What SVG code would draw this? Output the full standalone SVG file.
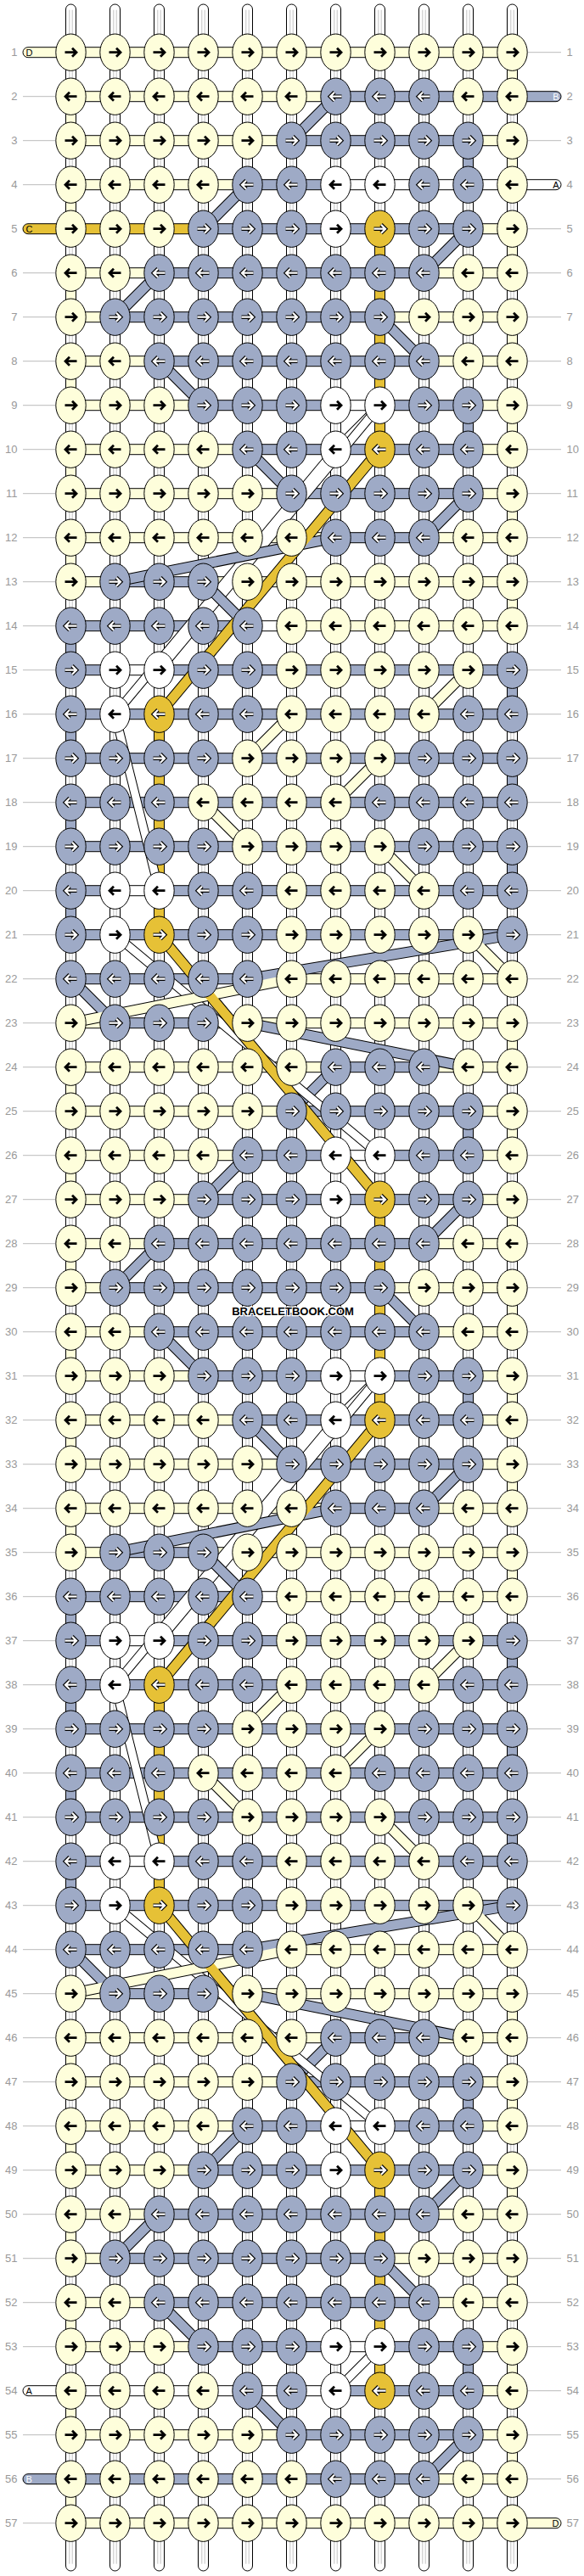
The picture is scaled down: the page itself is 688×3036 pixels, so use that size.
<svg xmlns="http://www.w3.org/2000/svg" width="688" height="3036" viewBox="0 0 688 3036">
<style>
.y{fill:#FEFEDB;stroke:#000;stroke-width:1}
.b{fill:#9EAAC6;stroke:#000;stroke-width:1}
.w{fill:#fff;stroke:#000;stroke-width:1}
.g{fill:#E6C136;stroke:#000;stroke-width:1}
.ab{fill:none;stroke:#000;stroke-width:2.8}
.ao{fill:none;stroke:#000;stroke-width:4.6}
.aw{fill:none;stroke:#fff;stroke-width:2.3}
.dk{stroke:#000;stroke-width:13;fill:none}
.dkw{stroke:#000;stroke-width:11;fill:none}
.dB{stroke:#9EAAC6;stroke-width:11;fill:none}
.dY{stroke:#FEFEDB;stroke-width:11;fill:none}
.dG{stroke:#E6C136;stroke-width:11;fill:none}
.dW{stroke:#fff;stroke-width:9;fill:none}
.ln{stroke:#bbb;stroke-width:1}
.num{font-family:"Liberation Sans",Arial,sans-serif;font-size:13px;fill:#999}
.tl{font-family:"Liberation Sans",Arial,sans-serif;font-size:11px;fill:#000}
.tlw{font-family:"Liberation Sans",Arial,sans-serif;font-size:11px;fill:#fff}
.stripe{fill:none;stroke:#c4c4c4;stroke-width:1}
.wm{font-family:"Liberation Sans",Arial,sans-serif;font-size:13px;font-weight:bold;fill:#000;stroke:#fff;stroke-width:2.5;paint-order:stroke}
</style>
<defs>
<path id="ar" d="M-7,0H6M1.5,-5L6.5,0L1.5,5"/>
<path id="al" d="M7,0H-6M-1.5,-5L-6.5,0L-1.5,5"/>
<g id="yr"><ellipse rx="17.7" ry="21.7" class="y"/><use href="#ar" class="ab"/></g>
<g id="yl"><ellipse rx="17.7" ry="21.7" class="y"/><use href="#al" class="ab"/></g>
<g id="wr"><ellipse rx="17.7" ry="21.7" class="w"/><use href="#ar" class="ab"/></g>
<g id="wl"><ellipse rx="17.7" ry="21.7" class="w"/><use href="#al" class="ab"/></g>
<g id="br"><ellipse rx="17.7" ry="21.7" class="b"/><use href="#ar" class="ao"/><use href="#ar" class="aw"/></g>
<g id="bl"><ellipse rx="17.7" ry="21.7" class="b"/><use href="#al" class="ao"/><use href="#al" class="aw"/></g>
<g id="gr"><ellipse rx="17.7" ry="21.7" class="g"/><use href="#ar" class="ao"/><use href="#ar" class="aw"/></g>
<g id="gl"><ellipse rx="17.7" ry="21.7" class="g"/><use href="#al" class="ao"/><use href="#al" class="aw"/></g>
<g id="vt"><rect x="-6" y="-4.7" width="12" height="3025" rx="6" class="w"/><path d="M-1.7,2V3012M1.7,2V3012" class="stripe"/></g>
<g id="h1"><rect class="y" x="52" y="-6" width="520" height="12"/></g>
<g id="h2"><rect class="y" x="52" y="-6" width="312" height="12"/><rect class="b" x="364" y="-6" width="208" height="12"/></g>
<g id="h3"><rect class="y" x="52" y="-6" width="260" height="12"/><rect class="b" x="312" y="-6" width="208" height="12"/><rect class="y" x="520" y="-6" width="52" height="12"/></g>
<g id="h4"><rect class="y" x="52" y="-6" width="208" height="12"/><rect class="b" x="260" y="-6" width="104" height="12"/><rect class="w" x="364" y="-6" width="208" height="12"/></g>
<g id="h5"><rect class="g" x="52" y="-6" width="156" height="12"/><rect class="b" x="208" y="-6" width="312" height="12"/><rect class="y" x="520" y="-6" width="52" height="12"/></g>
<g id="h6"><rect class="y" x="52" y="-6" width="104" height="12"/><rect class="b" x="156" y="-6" width="312" height="12"/><rect class="y" x="468" y="-6" width="104" height="12"/></g>
<g id="h7"><rect class="y" x="52" y="-6" width="52" height="12"/><rect class="b" x="104" y="-6" width="312" height="12"/><rect class="y" x="416" y="-6" width="156" height="12"/></g>
<g id="h9"><rect class="y" x="52" y="-6" width="156" height="12"/><rect class="b" x="208" y="-6" width="156" height="12"/><rect class="w" x="364" y="-6" width="52" height="12"/><rect class="b" x="416" y="-6" width="104" height="12"/><rect class="y" x="520" y="-6" width="52" height="12"/></g>
<g id="h10"><rect class="y" x="52" y="-6" width="208" height="12"/><rect class="b" x="260" y="-6" width="260" height="12"/><rect class="y" x="520" y="-6" width="52" height="12"/></g>
<g id="h12"><rect class="y" x="52" y="-6" width="312" height="12"/><rect class="b" x="364" y="-6" width="104" height="12"/><rect class="y" x="468" y="-6" width="104" height="12"/></g>
<g id="h13"><rect class="y" x="52" y="-6" width="52" height="12"/><rect class="b" x="104" y="-6" width="104" height="12"/><rect class="y" x="208" y="-6" width="364" height="12"/></g>
<g id="h14"><rect class="b" x="52" y="-6" width="208" height="12"/><rect class="w" x="260" y="-6" width="52" height="12"/><rect class="y" x="312" y="-6" width="260" height="12"/></g>
<g id="h15"><rect class="b" x="52" y="-6" width="52" height="12"/><rect class="w" x="104" y="-6" width="52" height="12"/><rect class="b" x="156" y="-6" width="416" height="12"/></g>
<g id="h16"><rect class="b" x="52" y="-6" width="520" height="12"/></g>
<g id="h22"><rect class="b" x="52" y="-6" width="260" height="12"/><rect class="y" x="312" y="-6" width="260" height="12"/></g>
<g id="h26"><rect class="y" x="52" y="-6" width="208" height="12"/><rect class="b" x="260" y="-6" width="104" height="12"/><rect class="w" x="364" y="-6" width="52" height="12"/><rect class="b" x="416" y="-6" width="104" height="12"/><rect class="y" x="520" y="-6" width="52" height="12"/></g>
<g id="h27"><rect class="y" x="52" y="-6" width="156" height="12"/><rect class="b" x="208" y="-6" width="312" height="12"/><rect class="y" x="520" y="-6" width="52" height="12"/></g>
<g id="h54"><rect class="w" x="52" y="-6" width="312" height="12"/><rect class="b" x="364" y="-6" width="156" height="12"/><rect class="y" x="520" y="-6" width="52" height="12"/></g>
<g id="h56"><rect class="b" x="52" y="-6" width="416" height="12"/><rect class="y" x="468" y="-6" width="104" height="12"/></g>
<g id="dA">
<path class="dkw" d="M416,468L364,520"/><path class="dW" d="M416,468L364,520"/>
<path class="dk" d="M364,104L312,156M260,208L208,260M520,260L468,312M156,312L104,364M416,364L468,416M156,416L208,468M260,520L312,572M520,572L468,624"/>
<path class="dB" d="M364,104L312,156M260,208L208,260M520,260L468,312M156,312L104,364M416,364L468,416M156,416L208,468M260,520L312,572M520,572L468,624"/>
</g>
<g id="dB">
<path class="dkw" d="M364,520L104,832M416,468L156,780M104,832L156,1040M104,1092L416,1352"/>
<path class="dW" d="M364,520L104,832M416,468L156,780M104,832L156,1040M104,1092L416,1352"/>
<path class="dk" d="M416,520L156,832M364,624L104,676M208,676L260,728M520,780L468,832M312,832L260,884M416,884L364,936M208,936L260,988M416,988L468,1040M156,1092L416,1404M572,1092L260,1144M520,1092L572,1144M52,1144L104,1196M312,1144L52,1196M260,1196L520,1248"/>
<path class="dB" d="M364,624L104,676M208,676L260,728M572,1092L260,1144M52,1144L104,1196M260,1196L520,1248"/>
<path class="dY" d="M520,780L468,832M312,832L260,884M416,884L364,936M208,936L260,988M416,988L468,1040M520,1092L572,1144M312,1144L52,1196"/>
<path class="dG" d="M416,520L156,832M156,1092L416,1404"/>
</g>
</defs>
<rect width="688" height="3036" fill="#fff"/>
<g transform="translate(31.5 9.7)">
<g id="labels">
<g class="num" text-anchor="end">
<text x="-11" y="56.5">1</text><text x="-11" y="108.5">2</text><text x="-11" y="160.5">3</text><text x="-11" y="212.5">4</text><text x="-11" y="264.5">5</text><text x="-11" y="316.5">6</text><text x="-11" y="368.5">7</text><text x="-11" y="420.5">8</text><text x="-11" y="472.5">9</text><text x="-11" y="524.5">10</text><text x="-11" y="576.5">11</text><text x="-11" y="628.5">12</text><text x="-11" y="680.5">13</text><text x="-11" y="732.5">14</text><text x="-11" y="784.5">15</text><text x="-11" y="836.5">16</text><text x="-11" y="888.5">17</text><text x="-11" y="940.5">18</text><text x="-11" y="992.5">19</text><text x="-11" y="1044.5">20</text><text x="-11" y="1096.5">21</text><text x="-11" y="1148.5">22</text><text x="-11" y="1200.5">23</text><text x="-11" y="1252.5">24</text><text x="-11" y="1304.5">25</text><text x="-11" y="1356.5">26</text><text x="-11" y="1408.5">27</text><text x="-11" y="1460.5">28</text><text x="-11" y="1512.5">29</text><text x="-11" y="1564.5">30</text><text x="-11" y="1616.5">31</text><text x="-11" y="1668.5">32</text><text x="-11" y="1720.5">33</text><text x="-11" y="1772.5">34</text><text x="-11" y="1824.5">35</text><text x="-11" y="1876.5">36</text><text x="-11" y="1928.5">37</text><text x="-11" y="1980.5">38</text><text x="-11" y="2032.5">39</text><text x="-11" y="2084.5">40</text><text x="-11" y="2136.5">41</text><text x="-11" y="2188.5">42</text><text x="-11" y="2240.5">43</text><text x="-11" y="2292.5">44</text><text x="-11" y="2344.5">45</text><text x="-11" y="2396.5">46</text><text x="-11" y="2448.5">47</text><text x="-11" y="2500.5">48</text><text x="-11" y="2552.5">49</text><text x="-11" y="2604.5">50</text><text x="-11" y="2656.5">51</text><text x="-11" y="2708.5">52</text><text x="-11" y="2760.5">53</text><text x="-11" y="2812.5">54</text><text x="-11" y="2864.5">55</text><text x="-11" y="2916.5">56</text><text x="-11" y="2968.5">57</text>
</g>
<g class="num">
<text x="636" y="56.5">1</text><text x="636" y="108.5">2</text><text x="636" y="160.5">3</text><text x="636" y="212.5">4</text><text x="636" y="264.5">5</text><text x="636" y="316.5">6</text><text x="636" y="368.5">7</text><text x="636" y="420.5">8</text><text x="636" y="472.5">9</text><text x="636" y="524.5">10</text><text x="636" y="576.5">11</text><text x="636" y="628.5">12</text><text x="636" y="680.5">13</text><text x="636" y="732.5">14</text><text x="636" y="784.5">15</text><text x="636" y="836.5">16</text><text x="636" y="888.5">17</text><text x="636" y="940.5">18</text><text x="636" y="992.5">19</text><text x="636" y="1044.5">20</text><text x="636" y="1096.5">21</text><text x="636" y="1148.5">22</text><text x="636" y="1200.5">23</text><text x="636" y="1252.5">24</text><text x="636" y="1304.5">25</text><text x="636" y="1356.5">26</text><text x="636" y="1408.5">27</text><text x="636" y="1460.5">28</text><text x="636" y="1512.5">29</text><text x="636" y="1564.5">30</text><text x="636" y="1616.5">31</text><text x="636" y="1668.5">32</text><text x="636" y="1720.5">33</text><text x="636" y="1772.5">34</text><text x="636" y="1824.5">35</text><text x="636" y="1876.5">36</text><text x="636" y="1928.5">37</text><text x="636" y="1980.5">38</text><text x="636" y="2032.5">39</text><text x="636" y="2084.5">40</text><text x="636" y="2136.5">41</text><text x="636" y="2188.5">42</text><text x="636" y="2240.5">43</text><text x="636" y="2292.5">44</text><text x="636" y="2344.5">45</text><text x="636" y="2396.5">46</text><text x="636" y="2448.5">47</text><text x="636" y="2500.5">48</text><text x="636" y="2552.5">49</text><text x="636" y="2604.5">50</text><text x="636" y="2656.5">51</text><text x="636" y="2708.5">52</text><text x="636" y="2760.5">53</text><text x="636" y="2812.5">54</text><text x="636" y="2864.5">55</text><text x="636" y="2916.5">56</text><text x="636" y="2968.5">57</text>
</g>
<path class="ln" d="M-4.5,104H34M-4.5,156H34M-4.5,208H34M-4.5,312H34M-4.5,364H34M-4.5,416H34M-4.5,468H34M-4.5,520H34M-4.5,572H34M-4.5,624H34M-4.5,676H34M-4.5,728H34M-4.5,780H34M-4.5,832H34M-4.5,884H34M-4.5,936H34M-4.5,988H34M-4.5,1040H34M-4.5,1092H34M-4.5,1144H34M-4.5,1196H34M-4.5,1248H34M-4.5,1300H34M-4.5,1352H34M-4.5,1404H34M-4.5,1456H34M-4.5,1508H34M-4.5,1560H34M-4.5,1612H34M-4.5,1664H34M-4.5,1716H34M-4.5,1768H34M-4.5,1820H34M-4.5,1872H34M-4.5,1924H34M-4.5,1976H34M-4.5,2028H34M-4.5,2080H34M-4.5,2132H34M-4.5,2184H34M-4.5,2236H34M-4.5,2288H34M-4.5,2340H34M-4.5,2392H34M-4.5,2444H34M-4.5,2496H34M-4.5,2548H34M-4.5,2600H34M-4.5,2652H34M-4.5,2704H34M-4.5,2756H34M-4.5,2860H34M-4.5,2964H34"/>
<path class="ln" d="M590,52H629.5M590,156H629.5M590,260H629.5M590,312H629.5M590,364H629.5M590,416H629.5M590,468H629.5M590,520H629.5M590,572H629.5M590,624H629.5M590,676H629.5M590,728H629.5M590,780H629.5M590,832H629.5M590,884H629.5M590,936H629.5M590,988H629.5M590,1040H629.5M590,1092H629.5M590,1144H629.5M590,1196H629.5M590,1248H629.5M590,1300H629.5M590,1352H629.5M590,1404H629.5M590,1456H629.5M590,1508H629.5M590,1560H629.5M590,1612H629.5M590,1664H629.5M590,1716H629.5M590,1768H629.5M590,1820H629.5M590,1872H629.5M590,1924H629.5M590,1976H629.5M590,2028H629.5M590,2080H629.5M590,2132H629.5M590,2184H629.5M590,2236H629.5M590,2288H629.5M590,2340H629.5M590,2392H629.5M590,2444H629.5M590,2496H629.5M590,2548H629.5M590,2600H629.5M590,2652H629.5M590,2704H629.5M590,2756H629.5M590,2808H629.5M590,2860H629.5M590,2912H629.5"/>
</g>
<g id="connectors">
<use href="#vt" x="52"/><use href="#vt" x="104"/><use href="#vt" x="156"/><use href="#vt" x="208"/><use href="#vt" x="260"/><use href="#vt" x="312"/><use href="#vt" x="364"/><use href="#vt" x="416"/><use href="#vt" x="468"/><use href="#vt" x="520"/><use href="#vt" x="572"/>
<g id="vsolid">
<rect class="y" x="566" y="52" width="12" height="52"/><rect class="y" x="46" y="104" width="12" height="52"/><rect class="y" x="566" y="156" width="12" height="52"/><rect class="y" x="46" y="208" width="12" height="52"/><rect class="y" x="566" y="260" width="12" height="52"/><rect class="y" x="46" y="312" width="12" height="52"/><rect class="y" x="566" y="364" width="12" height="52"/><rect class="y" x="46" y="416" width="12" height="52"/><rect class="y" x="566" y="468" width="12" height="52"/><rect class="y" x="46" y="520" width="12" height="52"/><rect class="y" x="566" y="572" width="12" height="52"/><rect class="y" x="46" y="624" width="12" height="52"/><rect class="y" x="566" y="676" width="12" height="52"/><rect class="b" x="46" y="728" width="12" height="52"/><rect class="b" x="566" y="780" width="12" height="52"/><rect class="b" x="46" y="832" width="12" height="52"/><rect class="b" x="566" y="884" width="12" height="52"/><rect class="b" x="46" y="936" width="12" height="52"/><rect class="b" x="566" y="988" width="12" height="52"/><rect class="b" x="46" y="1040" width="12" height="52"/><rect class="y" x="566" y="1196" width="12" height="52"/><rect class="y" x="46" y="1248" width="12" height="52"/><rect class="y" x="566" y="1300" width="12" height="52"/><rect class="y" x="46" y="1352" width="12" height="52"/>
<rect class="y" x="566" y="1404" width="12" height="52"/><rect class="y" x="46" y="1456" width="12" height="52"/><rect class="y" x="566" y="1508" width="12" height="52"/><rect class="y" x="46" y="1560" width="12" height="52"/><rect class="y" x="566" y="1612" width="12" height="52"/><rect class="y" x="46" y="1664" width="12" height="52"/><rect class="y" x="566" y="1716" width="12" height="52"/><rect class="y" x="46" y="1768" width="12" height="52"/><rect class="y" x="566" y="1820" width="12" height="52"/><rect class="b" x="46" y="1872" width="12" height="52"/><rect class="b" x="566" y="1924" width="12" height="52"/><rect class="b" x="46" y="1976" width="12" height="52"/><rect class="b" x="566" y="2028" width="12" height="52"/><rect class="b" x="46" y="2080" width="12" height="52"/><rect class="b" x="566" y="2132" width="12" height="52"/><rect class="b" x="46" y="2184" width="12" height="52"/><rect class="y" x="566" y="2340" width="12" height="52"/><rect class="y" x="46" y="2392" width="12" height="52"/><rect class="y" x="566" y="2444" width="12" height="52"/><rect class="y" x="46" y="2496" width="12" height="52"/><rect class="y" x="566" y="2548" width="12" height="52"/><rect class="y" x="46" y="2600" width="12" height="52"/><rect class="y" x="566" y="2652" width="12" height="52"/><rect class="y" x="46" y="2704" width="12" height="52"/><rect class="y" x="566" y="2756" width="12" height="52"/><rect class="y" x="46" y="2808" width="12" height="52"/><rect class="y" x="566" y="2860" width="12" height="52"/><rect class="y" x="46" y="2912" width="12" height="52"/>
<rect class="b" x="514" y="156" width="12" height="52"/><rect class="b" x="514" y="468" width="12" height="52"/><rect class="b" x="514" y="1300" width="12" height="52"/><rect class="b" x="514" y="1612" width="12" height="52"/><rect class="b" x="514" y="2444" width="12" height="52"/><rect class="b" x="514" y="2756" width="12" height="52"/>
<rect class="g" x="410" y="260" width="12" height="260"/><rect class="g" x="410" y="1404" width="12" height="260"/><rect class="g" x="410" y="2548" width="12" height="260"/><rect class="g" x="150" y="832" width="12" height="260"/><rect class="g" x="150" y="1976" width="12" height="260"/>
</g>
<g id="hconn">
<use href="#h1" y="52"/><use href="#h2" y="104"/><use href="#h3" y="156"/><use href="#h4" y="208"/><use href="#h5" y="260"/><use href="#h6" y="312"/><use href="#h7" y="364"/><use href="#h6" y="416"/><use href="#h9" y="468"/><use href="#h10" y="520"/><use href="#h3" y="572"/><use href="#h12" y="624"/><use href="#h13" y="676"/><use href="#h14" y="728"/><use href="#h15" y="780"/><use href="#h16" y="832"/><use href="#h16" y="884"/><use href="#h16" y="936"/><use href="#h16" y="988"/><use href="#h15" y="1040"/><use href="#h16" y="1092"/><use href="#h22" y="1144"/><use href="#h13" y="1196"/><use href="#h12" y="1248"/><use href="#h3" y="1300"/><use href="#h26" y="1352"/>
<use href="#h27" y="1404"/><use href="#h6" y="1456"/><use href="#h7" y="1508"/><use href="#h6" y="1560"/><use href="#h9" y="1612"/><use href="#h10" y="1664"/><use href="#h3" y="1716"/><use href="#h12" y="1768"/><use href="#h13" y="1820"/><use href="#h14" y="1872"/><use href="#h15" y="1924"/><use href="#h16" y="1976"/><use href="#h16" y="2028"/><use href="#h16" y="2080"/><use href="#h16" y="2132"/><use href="#h15" y="2184"/><use href="#h16" y="2236"/><use href="#h22" y="2288"/><use href="#h13" y="2340"/><use href="#h12" y="2392"/><use href="#h3" y="2444"/><use href="#h26" y="2496"/>
<use href="#h27" y="2548"/><use href="#h6" y="2600"/><use href="#h7" y="2652"/><use href="#h6" y="2704"/><use href="#h9" y="2756"/><use href="#h54" y="2808"/><use href="#h3" y="2860"/><use href="#h56" y="2912"/><use href="#h1" y="2964"/>
</g>
<g id="tubes">
<rect class="y" x="-4.5" y="46" width="70" height="12" rx="6"/><text class="tl" x="-1" y="56">D</text>
<rect class="g" x="-4.5" y="254" width="70" height="12" rx="6"/><text class="tl" x="-1" y="264">C</text>
<rect class="w" x="-4.5" y="2802" width="70" height="12" rx="6"/><text class="tl" x="-1" y="2812">A</text>
<rect class="b" x="-4.5" y="2906" width="70" height="12" rx="6"/><text class="tlw" x="-1" y="2916">B</text>
<rect class="b" x="560" y="98" width="69.5" height="12" rx="6"/><text class="tlw" x="627" y="108" text-anchor="end">B</text>
<rect class="w" x="560" y="202" width="69.5" height="12" rx="6"/><text class="tl" x="627" y="212" text-anchor="end">A</text>
<rect class="y" x="560" y="2958" width="69.5" height="12" rx="6"/><text class="tl" x="627" y="2968" text-anchor="end">D</text>
</g>
<g id="diagonals">
<use href="#dA"/><use href="#dA" y="1144"/><use href="#dA" y="2288"/>
<use href="#dB"/><use href="#dB" y="1144"/>
</g>
</g>
<g id="knots">
<g transform="translate(0 52)"><g id="n1-1"><use href="#yr" x="52"/></g><g id="n1-2"><use href="#yr" x="104"/></g><g id="n1-3"><use href="#yr" x="156"/></g><g id="n1-4"><use href="#yr" x="208"/></g><g id="n1-5"><use href="#yr" x="260"/></g><g id="n1-6"><use href="#yr" x="312"/></g><g id="n1-7"><use href="#yr" x="364"/></g><g id="n1-8"><use href="#yr" x="416"/></g><g id="n1-9"><use href="#yr" x="468"/></g><g id="n1-10"><use href="#yr" x="520"/></g><g id="n1-11"><use href="#yr" x="572"/></g></g>
<g transform="translate(0 104)"><g id="n2-1"><use href="#yl" x="52"/></g><g id="n2-2"><use href="#yl" x="104"/></g><g id="n2-3"><use href="#yl" x="156"/></g><g id="n2-4"><use href="#yl" x="208"/></g><g id="n2-5"><use href="#yl" x="260"/></g><g id="n2-6"><use href="#yl" x="312"/></g><g id="n2-7"><use href="#bl" x="364"/></g><g id="n2-8"><use href="#bl" x="416"/></g><g id="n2-9"><use href="#bl" x="468"/></g><g id="n2-10"><use href="#yl" x="520"/></g><g id="n2-11"><use href="#yl" x="572"/></g></g>
<g transform="translate(0 156)"><g id="n3-1"><use href="#yr" x="52"/></g><g id="n3-2"><use href="#yr" x="104"/></g><g id="n3-3"><use href="#yr" x="156"/></g><g id="n3-4"><use href="#yr" x="208"/></g><g id="n3-5"><use href="#yr" x="260"/></g><g id="n3-6"><use href="#br" x="312"/></g><g id="n3-7"><use href="#br" x="364"/></g><g id="n3-8"><use href="#br" x="416"/></g><g id="n3-9"><use href="#br" x="468"/></g><g id="n3-10"><use href="#br" x="520"/></g><g id="n3-11"><use href="#yr" x="572"/></g></g>
<g transform="translate(0 208)"><g id="n4-1"><use href="#yl" x="52"/></g><g id="n4-2"><use href="#yl" x="104"/></g><g id="n4-3"><use href="#yl" x="156"/></g><g id="n4-4"><use href="#yl" x="208"/></g><g id="n4-5"><use href="#bl" x="260"/></g><g id="n4-6"><use href="#bl" x="312"/></g><g id="n4-7"><use href="#wl" x="364"/></g><g id="n4-8"><use href="#wl" x="416"/></g><g id="n4-9"><use href="#bl" x="468"/></g><g id="n4-10"><use href="#bl" x="520"/></g><g id="n4-11"><use href="#yl" x="572"/></g></g>
<g transform="translate(0 260)"><g id="n5-1"><use href="#yr" x="52"/></g><g id="n5-2"><use href="#yr" x="104"/></g><g id="n5-3"><use href="#yr" x="156"/></g><g id="n5-4"><use href="#br" x="208"/></g><g id="n5-5"><use href="#br" x="260"/></g><g id="n5-6"><use href="#br" x="312"/></g><g id="n5-7"><use href="#wr" x="364"/></g><g id="n5-8"><use href="#gr" x="416"/></g><g id="n5-9"><use href="#br" x="468"/></g><g id="n5-10"><use href="#br" x="520"/></g><g id="n5-11"><use href="#yr" x="572"/></g></g>
<g transform="translate(0 312)"><g id="n6-1"><use href="#yl" x="52"/></g><g id="n6-2"><use href="#yl" x="104"/></g><g id="n6-3"><use href="#bl" x="156"/></g><g id="n6-4"><use href="#bl" x="208"/></g><g id="n6-5"><use href="#bl" x="260"/></g><g id="n6-6"><use href="#bl" x="312"/></g><g id="n6-7"><use href="#bl" x="364"/></g><g id="n6-8"><use href="#bl" x="416"/></g><g id="n6-9"><use href="#bl" x="468"/></g><g id="n6-10"><use href="#yl" x="520"/></g><g id="n6-11"><use href="#yl" x="572"/></g></g>
<g transform="translate(0 364)"><g id="n7-1"><use href="#yr" x="52"/></g><g id="n7-2"><use href="#br" x="104"/></g><g id="n7-3"><use href="#br" x="156"/></g><g id="n7-4"><use href="#br" x="208"/></g><g id="n7-5"><use href="#br" x="260"/></g><g id="n7-6"><use href="#br" x="312"/></g><g id="n7-7"><use href="#br" x="364"/></g><g id="n7-8"><use href="#br" x="416"/></g><g id="n7-9"><use href="#yr" x="468"/></g><g id="n7-10"><use href="#yr" x="520"/></g><g id="n7-11"><use href="#yr" x="572"/></g></g>
<g transform="translate(0 416)"><g id="n8-1"><use href="#yl" x="52"/></g><g id="n8-2"><use href="#yl" x="104"/></g><g id="n8-3"><use href="#bl" x="156"/></g><g id="n8-4"><use href="#bl" x="208"/></g><g id="n8-5"><use href="#bl" x="260"/></g><g id="n8-6"><use href="#bl" x="312"/></g><g id="n8-7"><use href="#bl" x="364"/></g><g id="n8-8"><use href="#bl" x="416"/></g><g id="n8-9"><use href="#bl" x="468"/></g><g id="n8-10"><use href="#yl" x="520"/></g><g id="n8-11"><use href="#yl" x="572"/></g></g>
<g transform="translate(0 468)"><g id="n9-1"><use href="#yr" x="52"/></g><g id="n9-2"><use href="#yr" x="104"/></g><g id="n9-3"><use href="#yr" x="156"/></g><g id="n9-4"><use href="#br" x="208"/></g><g id="n9-5"><use href="#br" x="260"/></g><g id="n9-6"><use href="#br" x="312"/></g><g id="n9-7"><use href="#wr" x="364"/></g><g id="n9-8"><use href="#wr" x="416"/></g><g id="n9-9"><use href="#br" x="468"/></g><g id="n9-10"><use href="#br" x="520"/></g><g id="n9-11"><use href="#yr" x="572"/></g></g>
<g transform="translate(0 520)"><g id="n10-1"><use href="#yl" x="52"/></g><g id="n10-2"><use href="#yl" x="104"/></g><g id="n10-3"><use href="#yl" x="156"/></g><g id="n10-4"><use href="#yl" x="208"/></g><g id="n10-5"><use href="#bl" x="260"/></g><g id="n10-6"><use href="#bl" x="312"/></g><g id="n10-7"><use href="#wl" x="364"/></g><g id="n10-8"><use href="#gl" x="416"/></g><g id="n10-9"><use href="#bl" x="468"/></g><g id="n10-10"><use href="#bl" x="520"/></g><g id="n10-11"><use href="#yl" x="572"/></g></g>
<g transform="translate(0 572)"><g id="n11-1"><use href="#yr" x="52"/></g><g id="n11-2"><use href="#yr" x="104"/></g><g id="n11-3"><use href="#yr" x="156"/></g><g id="n11-4"><use href="#yr" x="208"/></g><g id="n11-5"><use href="#yr" x="260"/></g><g id="n11-6"><use href="#br" x="312"/></g><g id="n11-7"><use href="#br" x="364"/></g><g id="n11-8"><use href="#br" x="416"/></g><g id="n11-9"><use href="#br" x="468"/></g><g id="n11-10"><use href="#br" x="520"/></g><g id="n11-11"><use href="#yr" x="572"/></g></g>
<g transform="translate(0 624)"><g id="n12-1"><use href="#yl" x="52"/></g><g id="n12-2"><use href="#yl" x="104"/></g><g id="n12-3"><use href="#yl" x="156"/></g><g id="n12-4"><use href="#yl" x="208"/></g><g id="n12-5"><use href="#yl" x="260"/></g><g id="n12-6"><use href="#yl" x="312"/></g><g id="n12-7"><use href="#bl" x="364"/></g><g id="n12-8"><use href="#bl" x="416"/></g><g id="n12-9"><use href="#bl" x="468"/></g><g id="n12-10"><use href="#yl" x="520"/></g><g id="n12-11"><use href="#yl" x="572"/></g></g>
<g transform="translate(0 676)"><g id="n13-1"><use href="#yr" x="52"/></g><g id="n13-2"><use href="#br" x="104"/></g><g id="n13-3"><use href="#br" x="156"/></g><g id="n13-4"><use href="#br" x="208"/></g><g id="n13-5"><use href="#yr" x="260"/></g><g id="n13-6"><use href="#yr" x="312"/></g><g id="n13-7"><use href="#yr" x="364"/></g><g id="n13-8"><use href="#yr" x="416"/></g><g id="n13-9"><use href="#yr" x="468"/></g><g id="n13-10"><use href="#yr" x="520"/></g><g id="n13-11"><use href="#yr" x="572"/></g></g>
<g transform="translate(0 728)"><g id="n14-1"><use href="#bl" x="52"/></g><g id="n14-2"><use href="#bl" x="104"/></g><g id="n14-3"><use href="#bl" x="156"/></g><g id="n14-4"><use href="#bl" x="208"/></g><g id="n14-5"><use href="#bl" x="260"/></g><g id="n14-6"><use href="#yl" x="312"/></g><g id="n14-7"><use href="#yl" x="364"/></g><g id="n14-8"><use href="#yl" x="416"/></g><g id="n14-9"><use href="#yl" x="468"/></g><g id="n14-10"><use href="#yl" x="520"/></g><g id="n14-11"><use href="#yl" x="572"/></g></g>
<g transform="translate(0 780)"><g id="n15-1"><use href="#br" x="52"/></g><g id="n15-2"><use href="#wr" x="104"/></g><g id="n15-3"><use href="#wr" x="156"/></g><g id="n15-4"><use href="#br" x="208"/></g><g id="n15-5"><use href="#br" x="260"/></g><g id="n15-6"><use href="#yr" x="312"/></g><g id="n15-7"><use href="#yr" x="364"/></g><g id="n15-8"><use href="#yr" x="416"/></g><g id="n15-9"><use href="#yr" x="468"/></g><g id="n15-10"><use href="#yr" x="520"/></g><g id="n15-11"><use href="#br" x="572"/></g></g>
<g transform="translate(0 832)"><g id="n16-1"><use href="#bl" x="52"/></g><g id="n16-2"><use href="#wl" x="104"/></g><g id="n16-3"><use href="#gl" x="156"/></g><g id="n16-4"><use href="#bl" x="208"/></g><g id="n16-5"><use href="#bl" x="260"/></g><g id="n16-6"><use href="#yl" x="312"/></g><g id="n16-7"><use href="#yl" x="364"/></g><g id="n16-8"><use href="#yl" x="416"/></g><g id="n16-9"><use href="#yl" x="468"/></g><g id="n16-10"><use href="#bl" x="520"/></g><g id="n16-11"><use href="#bl" x="572"/></g></g>
<g transform="translate(0 884)"><g id="n17-1"><use href="#br" x="52"/></g><g id="n17-2"><use href="#br" x="104"/></g><g id="n17-3"><use href="#br" x="156"/></g><g id="n17-4"><use href="#br" x="208"/></g><g id="n17-5"><use href="#yr" x="260"/></g><g id="n17-6"><use href="#yr" x="312"/></g><g id="n17-7"><use href="#yr" x="364"/></g><g id="n17-8"><use href="#yr" x="416"/></g><g id="n17-9"><use href="#br" x="468"/></g><g id="n17-10"><use href="#br" x="520"/></g><g id="n17-11"><use href="#br" x="572"/></g></g>
<g transform="translate(0 936)"><g id="n18-1"><use href="#bl" x="52"/></g><g id="n18-2"><use href="#bl" x="104"/></g><g id="n18-3"><use href="#bl" x="156"/></g><g id="n18-4"><use href="#yl" x="208"/></g><g id="n18-5"><use href="#yl" x="260"/></g><g id="n18-6"><use href="#yl" x="312"/></g><g id="n18-7"><use href="#yl" x="364"/></g><g id="n18-8"><use href="#bl" x="416"/></g><g id="n18-9"><use href="#bl" x="468"/></g><g id="n18-10"><use href="#bl" x="520"/></g><g id="n18-11"><use href="#bl" x="572"/></g></g>
<g transform="translate(0 988)"><g id="n19-1"><use href="#br" x="52"/></g><g id="n19-2"><use href="#br" x="104"/></g><g id="n19-3"><use href="#br" x="156"/></g><g id="n19-4"><use href="#br" x="208"/></g><g id="n19-5"><use href="#yr" x="260"/></g><g id="n19-6"><use href="#yr" x="312"/></g><g id="n19-7"><use href="#yr" x="364"/></g><g id="n19-8"><use href="#yr" x="416"/></g><g id="n19-9"><use href="#br" x="468"/></g><g id="n19-10"><use href="#br" x="520"/></g><g id="n19-11"><use href="#br" x="572"/></g></g>
<g transform="translate(0 1040)"><g id="n20-1"><use href="#bl" x="52"/></g><g id="n20-2"><use href="#wl" x="104"/></g><g id="n20-3"><use href="#wl" x="156"/></g><g id="n20-4"><use href="#bl" x="208"/></g><g id="n20-5"><use href="#bl" x="260"/></g><g id="n20-6"><use href="#yl" x="312"/></g><g id="n20-7"><use href="#yl" x="364"/></g><g id="n20-8"><use href="#yl" x="416"/></g><g id="n20-9"><use href="#yl" x="468"/></g><g id="n20-10"><use href="#bl" x="520"/></g><g id="n20-11"><use href="#bl" x="572"/></g></g>
<g transform="translate(0 1092)"><g id="n21-1"><use href="#br" x="52"/></g><g id="n21-2"><use href="#wr" x="104"/></g><g id="n21-3"><use href="#gr" x="156"/></g><g id="n21-4"><use href="#br" x="208"/></g><g id="n21-5"><use href="#br" x="260"/></g><g id="n21-6"><use href="#yr" x="312"/></g><g id="n21-7"><use href="#yr" x="364"/></g><g id="n21-8"><use href="#yr" x="416"/></g><g id="n21-9"><use href="#yr" x="468"/></g><g id="n21-10"><use href="#yr" x="520"/></g><g id="n21-11"><use href="#br" x="572"/></g></g>
<g transform="translate(0 1144)"><g id="n22-1"><use href="#bl" x="52"/></g><g id="n22-2"><use href="#bl" x="104"/></g><g id="n22-3"><use href="#bl" x="156"/></g><g id="n22-4"><use href="#bl" x="208"/></g><g id="n22-5"><use href="#bl" x="260"/></g><g id="n22-6"><use href="#yl" x="312"/></g><g id="n22-7"><use href="#yl" x="364"/></g><g id="n22-8"><use href="#yl" x="416"/></g><g id="n22-9"><use href="#yl" x="468"/></g><g id="n22-10"><use href="#yl" x="520"/></g><g id="n22-11"><use href="#yl" x="572"/></g></g>
<g transform="translate(0 1196)"><g id="n23-1"><use href="#yr" x="52"/></g><g id="n23-2"><use href="#br" x="104"/></g><g id="n23-3"><use href="#br" x="156"/></g><g id="n23-4"><use href="#br" x="208"/></g><g id="n23-5"><use href="#yr" x="260"/></g><g id="n23-6"><use href="#yr" x="312"/></g><g id="n23-7"><use href="#yr" x="364"/></g><g id="n23-8"><use href="#yr" x="416"/></g><g id="n23-9"><use href="#yr" x="468"/></g><g id="n23-10"><use href="#yr" x="520"/></g><g id="n23-11"><use href="#yr" x="572"/></g></g>
<g transform="translate(0 1248)"><g id="n24-1"><use href="#yl" x="52"/></g><g id="n24-2"><use href="#yl" x="104"/></g><g id="n24-3"><use href="#yl" x="156"/></g><g id="n24-4"><use href="#yl" x="208"/></g><g id="n24-5"><use href="#yl" x="260"/></g><g id="n24-6"><use href="#yl" x="312"/></g><g id="n24-7"><use href="#bl" x="364"/></g><g id="n24-8"><use href="#bl" x="416"/></g><g id="n24-9"><use href="#bl" x="468"/></g><g id="n24-10"><use href="#yl" x="520"/></g><g id="n24-11"><use href="#yl" x="572"/></g></g>
<g transform="translate(0 1300)"><g id="n25-1"><use href="#yr" x="52"/></g><g id="n25-2"><use href="#yr" x="104"/></g><g id="n25-3"><use href="#yr" x="156"/></g><g id="n25-4"><use href="#yr" x="208"/></g><g id="n25-5"><use href="#yr" x="260"/></g><g id="n25-6"><use href="#br" x="312"/></g><g id="n25-7"><use href="#br" x="364"/></g><g id="n25-8"><use href="#br" x="416"/></g><g id="n25-9"><use href="#br" x="468"/></g><g id="n25-10"><use href="#br" x="520"/></g><g id="n25-11"><use href="#yr" x="572"/></g></g>
<g transform="translate(0 1352)"><g id="n26-1"><use href="#yl" x="52"/></g><g id="n26-2"><use href="#yl" x="104"/></g><g id="n26-3"><use href="#yl" x="156"/></g><g id="n26-4"><use href="#yl" x="208"/></g><g id="n26-5"><use href="#bl" x="260"/></g><g id="n26-6"><use href="#bl" x="312"/></g><g id="n26-7"><use href="#wl" x="364"/></g><g id="n26-8"><use href="#wl" x="416"/></g><g id="n26-9"><use href="#bl" x="468"/></g><g id="n26-10"><use href="#bl" x="520"/></g><g id="n26-11"><use href="#yl" x="572"/></g></g>
<g transform="translate(0 1404)"><g id="n27-1"><use href="#yr" x="52"/></g><g id="n27-2"><use href="#yr" x="104"/></g><g id="n27-3"><use href="#yr" x="156"/></g><g id="n27-4"><use href="#br" x="208"/></g><g id="n27-5"><use href="#br" x="260"/></g><g id="n27-6"><use href="#br" x="312"/></g><g id="n27-7"><use href="#wr" x="364"/></g><g id="n27-8"><use href="#gr" x="416"/></g><g id="n27-9"><use href="#br" x="468"/></g><g id="n27-10"><use href="#br" x="520"/></g><g id="n27-11"><use href="#yr" x="572"/></g></g>
<g transform="translate(0 1456)"><g id="n28-1"><use href="#yl" x="52"/></g><g id="n28-2"><use href="#yl" x="104"/></g><g id="n28-3"><use href="#bl" x="156"/></g><g id="n28-4"><use href="#bl" x="208"/></g><g id="n28-5"><use href="#bl" x="260"/></g><g id="n28-6"><use href="#bl" x="312"/></g><g id="n28-7"><use href="#bl" x="364"/></g><g id="n28-8"><use href="#bl" x="416"/></g><g id="n28-9"><use href="#bl" x="468"/></g><g id="n28-10"><use href="#yl" x="520"/></g><g id="n28-11"><use href="#yl" x="572"/></g></g>
<g transform="translate(0 1508)"><g id="n29-1"><use href="#yr" x="52"/></g><g id="n29-2"><use href="#br" x="104"/></g><g id="n29-3"><use href="#br" x="156"/></g><g id="n29-4"><use href="#br" x="208"/></g><g id="n29-5"><use href="#br" x="260"/></g><g id="n29-6"><use href="#br" x="312"/></g><g id="n29-7"><use href="#br" x="364"/></g><g id="n29-8"><use href="#br" x="416"/></g><g id="n29-9"><use href="#yr" x="468"/></g><g id="n29-10"><use href="#yr" x="520"/></g><g id="n29-11"><use href="#yr" x="572"/></g></g>
<g transform="translate(0 1560)"><g id="n30-1"><use href="#yl" x="52"/></g><g id="n30-2"><use href="#yl" x="104"/></g><g id="n30-3"><use href="#bl" x="156"/></g><g id="n30-4"><use href="#bl" x="208"/></g><g id="n30-5"><use href="#bl" x="260"/></g><g id="n30-6"><use href="#bl" x="312"/></g><g id="n30-7"><use href="#bl" x="364"/></g><g id="n30-8"><use href="#bl" x="416"/></g><g id="n30-9"><use href="#bl" x="468"/></g><g id="n30-10"><use href="#yl" x="520"/></g><g id="n30-11"><use href="#yl" x="572"/></g></g>
<g transform="translate(0 1612)"><g id="n31-1"><use href="#yr" x="52"/></g><g id="n31-2"><use href="#yr" x="104"/></g><g id="n31-3"><use href="#yr" x="156"/></g><g id="n31-4"><use href="#br" x="208"/></g><g id="n31-5"><use href="#br" x="260"/></g><g id="n31-6"><use href="#br" x="312"/></g><g id="n31-7"><use href="#wr" x="364"/></g><g id="n31-8"><use href="#wr" x="416"/></g><g id="n31-9"><use href="#br" x="468"/></g><g id="n31-10"><use href="#br" x="520"/></g><g id="n31-11"><use href="#yr" x="572"/></g></g>
<g transform="translate(0 1664)"><g id="n32-1"><use href="#yl" x="52"/></g><g id="n32-2"><use href="#yl" x="104"/></g><g id="n32-3"><use href="#yl" x="156"/></g><g id="n32-4"><use href="#yl" x="208"/></g><g id="n32-5"><use href="#bl" x="260"/></g><g id="n32-6"><use href="#bl" x="312"/></g><g id="n32-7"><use href="#wl" x="364"/></g><g id="n32-8"><use href="#gl" x="416"/></g><g id="n32-9"><use href="#bl" x="468"/></g><g id="n32-10"><use href="#bl" x="520"/></g><g id="n32-11"><use href="#yl" x="572"/></g></g>
<g transform="translate(0 1716)"><g id="n33-1"><use href="#yr" x="52"/></g><g id="n33-2"><use href="#yr" x="104"/></g><g id="n33-3"><use href="#yr" x="156"/></g><g id="n33-4"><use href="#yr" x="208"/></g><g id="n33-5"><use href="#yr" x="260"/></g><g id="n33-6"><use href="#br" x="312"/></g><g id="n33-7"><use href="#br" x="364"/></g><g id="n33-8"><use href="#br" x="416"/></g><g id="n33-9"><use href="#br" x="468"/></g><g id="n33-10"><use href="#br" x="520"/></g><g id="n33-11"><use href="#yr" x="572"/></g></g>
<g transform="translate(0 1768)"><g id="n34-1"><use href="#yl" x="52"/></g><g id="n34-2"><use href="#yl" x="104"/></g><g id="n34-3"><use href="#yl" x="156"/></g><g id="n34-4"><use href="#yl" x="208"/></g><g id="n34-5"><use href="#yl" x="260"/></g><g id="n34-6"><use href="#yl" x="312"/></g><g id="n34-7"><use href="#bl" x="364"/></g><g id="n34-8"><use href="#bl" x="416"/></g><g id="n34-9"><use href="#bl" x="468"/></g><g id="n34-10"><use href="#yl" x="520"/></g><g id="n34-11"><use href="#yl" x="572"/></g></g>
<g transform="translate(0 1820)"><g id="n35-1"><use href="#yr" x="52"/></g><g id="n35-2"><use href="#br" x="104"/></g><g id="n35-3"><use href="#br" x="156"/></g><g id="n35-4"><use href="#br" x="208"/></g><g id="n35-5"><use href="#yr" x="260"/></g><g id="n35-6"><use href="#yr" x="312"/></g><g id="n35-7"><use href="#yr" x="364"/></g><g id="n35-8"><use href="#yr" x="416"/></g><g id="n35-9"><use href="#yr" x="468"/></g><g id="n35-10"><use href="#yr" x="520"/></g><g id="n35-11"><use href="#yr" x="572"/></g></g>
<g transform="translate(0 1872)"><g id="n36-1"><use href="#bl" x="52"/></g><g id="n36-2"><use href="#bl" x="104"/></g><g id="n36-3"><use href="#bl" x="156"/></g><g id="n36-4"><use href="#bl" x="208"/></g><g id="n36-5"><use href="#bl" x="260"/></g><g id="n36-6"><use href="#yl" x="312"/></g><g id="n36-7"><use href="#yl" x="364"/></g><g id="n36-8"><use href="#yl" x="416"/></g><g id="n36-9"><use href="#yl" x="468"/></g><g id="n36-10"><use href="#yl" x="520"/></g><g id="n36-11"><use href="#yl" x="572"/></g></g>
<g transform="translate(0 1924)"><g id="n37-1"><use href="#br" x="52"/></g><g id="n37-2"><use href="#wr" x="104"/></g><g id="n37-3"><use href="#wr" x="156"/></g><g id="n37-4"><use href="#br" x="208"/></g><g id="n37-5"><use href="#br" x="260"/></g><g id="n37-6"><use href="#yr" x="312"/></g><g id="n37-7"><use href="#yr" x="364"/></g><g id="n37-8"><use href="#yr" x="416"/></g><g id="n37-9"><use href="#yr" x="468"/></g><g id="n37-10"><use href="#yr" x="520"/></g><g id="n37-11"><use href="#br" x="572"/></g></g>
<g transform="translate(0 1976)"><g id="n38-1"><use href="#bl" x="52"/></g><g id="n38-2"><use href="#wl" x="104"/></g><g id="n38-3"><use href="#gl" x="156"/></g><g id="n38-4"><use href="#bl" x="208"/></g><g id="n38-5"><use href="#bl" x="260"/></g><g id="n38-6"><use href="#yl" x="312"/></g><g id="n38-7"><use href="#yl" x="364"/></g><g id="n38-8"><use href="#yl" x="416"/></g><g id="n38-9"><use href="#yl" x="468"/></g><g id="n38-10"><use href="#bl" x="520"/></g><g id="n38-11"><use href="#bl" x="572"/></g></g>
<g transform="translate(0 2028)"><g id="n39-1"><use href="#br" x="52"/></g><g id="n39-2"><use href="#br" x="104"/></g><g id="n39-3"><use href="#br" x="156"/></g><g id="n39-4"><use href="#br" x="208"/></g><g id="n39-5"><use href="#yr" x="260"/></g><g id="n39-6"><use href="#yr" x="312"/></g><g id="n39-7"><use href="#yr" x="364"/></g><g id="n39-8"><use href="#yr" x="416"/></g><g id="n39-9"><use href="#br" x="468"/></g><g id="n39-10"><use href="#br" x="520"/></g><g id="n39-11"><use href="#br" x="572"/></g></g>
<g transform="translate(0 2080)"><g id="n40-1"><use href="#bl" x="52"/></g><g id="n40-2"><use href="#bl" x="104"/></g><g id="n40-3"><use href="#bl" x="156"/></g><g id="n40-4"><use href="#yl" x="208"/></g><g id="n40-5"><use href="#yl" x="260"/></g><g id="n40-6"><use href="#yl" x="312"/></g><g id="n40-7"><use href="#yl" x="364"/></g><g id="n40-8"><use href="#bl" x="416"/></g><g id="n40-9"><use href="#bl" x="468"/></g><g id="n40-10"><use href="#bl" x="520"/></g><g id="n40-11"><use href="#bl" x="572"/></g></g>
<g transform="translate(0 2132)"><g id="n41-1"><use href="#br" x="52"/></g><g id="n41-2"><use href="#br" x="104"/></g><g id="n41-3"><use href="#br" x="156"/></g><g id="n41-4"><use href="#br" x="208"/></g><g id="n41-5"><use href="#yr" x="260"/></g><g id="n41-6"><use href="#yr" x="312"/></g><g id="n41-7"><use href="#yr" x="364"/></g><g id="n41-8"><use href="#yr" x="416"/></g><g id="n41-9"><use href="#br" x="468"/></g><g id="n41-10"><use href="#br" x="520"/></g><g id="n41-11"><use href="#br" x="572"/></g></g>
<g transform="translate(0 2184)"><g id="n42-1"><use href="#bl" x="52"/></g><g id="n42-2"><use href="#wl" x="104"/></g><g id="n42-3"><use href="#wl" x="156"/></g><g id="n42-4"><use href="#bl" x="208"/></g><g id="n42-5"><use href="#bl" x="260"/></g><g id="n42-6"><use href="#yl" x="312"/></g><g id="n42-7"><use href="#yl" x="364"/></g><g id="n42-8"><use href="#yl" x="416"/></g><g id="n42-9"><use href="#yl" x="468"/></g><g id="n42-10"><use href="#bl" x="520"/></g><g id="n42-11"><use href="#bl" x="572"/></g></g>
<g transform="translate(0 2236)"><g id="n43-1"><use href="#br" x="52"/></g><g id="n43-2"><use href="#wr" x="104"/></g><g id="n43-3"><use href="#gr" x="156"/></g><g id="n43-4"><use href="#br" x="208"/></g><g id="n43-5"><use href="#br" x="260"/></g><g id="n43-6"><use href="#yr" x="312"/></g><g id="n43-7"><use href="#yr" x="364"/></g><g id="n43-8"><use href="#yr" x="416"/></g><g id="n43-9"><use href="#yr" x="468"/></g><g id="n43-10"><use href="#yr" x="520"/></g><g id="n43-11"><use href="#br" x="572"/></g></g>
<g transform="translate(0 2288)"><g id="n44-1"><use href="#bl" x="52"/></g><g id="n44-2"><use href="#bl" x="104"/></g><g id="n44-3"><use href="#bl" x="156"/></g><g id="n44-4"><use href="#bl" x="208"/></g><g id="n44-5"><use href="#bl" x="260"/></g><g id="n44-6"><use href="#yl" x="312"/></g><g id="n44-7"><use href="#yl" x="364"/></g><g id="n44-8"><use href="#yl" x="416"/></g><g id="n44-9"><use href="#yl" x="468"/></g><g id="n44-10"><use href="#yl" x="520"/></g><g id="n44-11"><use href="#yl" x="572"/></g></g>
<g transform="translate(0 2340)"><g id="n45-1"><use href="#yr" x="52"/></g><g id="n45-2"><use href="#br" x="104"/></g><g id="n45-3"><use href="#br" x="156"/></g><g id="n45-4"><use href="#br" x="208"/></g><g id="n45-5"><use href="#yr" x="260"/></g><g id="n45-6"><use href="#yr" x="312"/></g><g id="n45-7"><use href="#yr" x="364"/></g><g id="n45-8"><use href="#yr" x="416"/></g><g id="n45-9"><use href="#yr" x="468"/></g><g id="n45-10"><use href="#yr" x="520"/></g><g id="n45-11"><use href="#yr" x="572"/></g></g>
<g transform="translate(0 2392)"><g id="n46-1"><use href="#yl" x="52"/></g><g id="n46-2"><use href="#yl" x="104"/></g><g id="n46-3"><use href="#yl" x="156"/></g><g id="n46-4"><use href="#yl" x="208"/></g><g id="n46-5"><use href="#yl" x="260"/></g><g id="n46-6"><use href="#yl" x="312"/></g><g id="n46-7"><use href="#bl" x="364"/></g><g id="n46-8"><use href="#bl" x="416"/></g><g id="n46-9"><use href="#bl" x="468"/></g><g id="n46-10"><use href="#yl" x="520"/></g><g id="n46-11"><use href="#yl" x="572"/></g></g>
<g transform="translate(0 2444)"><g id="n47-1"><use href="#yr" x="52"/></g><g id="n47-2"><use href="#yr" x="104"/></g><g id="n47-3"><use href="#yr" x="156"/></g><g id="n47-4"><use href="#yr" x="208"/></g><g id="n47-5"><use href="#yr" x="260"/></g><g id="n47-6"><use href="#br" x="312"/></g><g id="n47-7"><use href="#br" x="364"/></g><g id="n47-8"><use href="#br" x="416"/></g><g id="n47-9"><use href="#br" x="468"/></g><g id="n47-10"><use href="#br" x="520"/></g><g id="n47-11"><use href="#yr" x="572"/></g></g>
<g transform="translate(0 2496)"><g id="n48-1"><use href="#yl" x="52"/></g><g id="n48-2"><use href="#yl" x="104"/></g><g id="n48-3"><use href="#yl" x="156"/></g><g id="n48-4"><use href="#yl" x="208"/></g><g id="n48-5"><use href="#bl" x="260"/></g><g id="n48-6"><use href="#bl" x="312"/></g><g id="n48-7"><use href="#wl" x="364"/></g><g id="n48-8"><use href="#wl" x="416"/></g><g id="n48-9"><use href="#bl" x="468"/></g><g id="n48-10"><use href="#bl" x="520"/></g><g id="n48-11"><use href="#yl" x="572"/></g></g>
<g transform="translate(0 2548)"><g id="n49-1"><use href="#yr" x="52"/></g><g id="n49-2"><use href="#yr" x="104"/></g><g id="n49-3"><use href="#yr" x="156"/></g><g id="n49-4"><use href="#br" x="208"/></g><g id="n49-5"><use href="#br" x="260"/></g><g id="n49-6"><use href="#br" x="312"/></g><g id="n49-7"><use href="#wr" x="364"/></g><g id="n49-8"><use href="#gr" x="416"/></g><g id="n49-9"><use href="#br" x="468"/></g><g id="n49-10"><use href="#br" x="520"/></g><g id="n49-11"><use href="#yr" x="572"/></g></g>
<g transform="translate(0 2600)"><g id="n50-1"><use href="#yl" x="52"/></g><g id="n50-2"><use href="#yl" x="104"/></g><g id="n50-3"><use href="#bl" x="156"/></g><g id="n50-4"><use href="#bl" x="208"/></g><g id="n50-5"><use href="#bl" x="260"/></g><g id="n50-6"><use href="#bl" x="312"/></g><g id="n50-7"><use href="#bl" x="364"/></g><g id="n50-8"><use href="#bl" x="416"/></g><g id="n50-9"><use href="#bl" x="468"/></g><g id="n50-10"><use href="#yl" x="520"/></g><g id="n50-11"><use href="#yl" x="572"/></g></g>
<g transform="translate(0 2652)"><g id="n51-1"><use href="#yr" x="52"/></g><g id="n51-2"><use href="#br" x="104"/></g><g id="n51-3"><use href="#br" x="156"/></g><g id="n51-4"><use href="#br" x="208"/></g><g id="n51-5"><use href="#br" x="260"/></g><g id="n51-6"><use href="#br" x="312"/></g><g id="n51-7"><use href="#br" x="364"/></g><g id="n51-8"><use href="#br" x="416"/></g><g id="n51-9"><use href="#yr" x="468"/></g><g id="n51-10"><use href="#yr" x="520"/></g><g id="n51-11"><use href="#yr" x="572"/></g></g>
<g transform="translate(0 2704)"><g id="n52-1"><use href="#yl" x="52"/></g><g id="n52-2"><use href="#yl" x="104"/></g><g id="n52-3"><use href="#bl" x="156"/></g><g id="n52-4"><use href="#bl" x="208"/></g><g id="n52-5"><use href="#bl" x="260"/></g><g id="n52-6"><use href="#bl" x="312"/></g><g id="n52-7"><use href="#bl" x="364"/></g><g id="n52-8"><use href="#bl" x="416"/></g><g id="n52-9"><use href="#bl" x="468"/></g><g id="n52-10"><use href="#yl" x="520"/></g><g id="n52-11"><use href="#yl" x="572"/></g></g>
<g transform="translate(0 2756)"><g id="n53-1"><use href="#yr" x="52"/></g><g id="n53-2"><use href="#yr" x="104"/></g><g id="n53-3"><use href="#yr" x="156"/></g><g id="n53-4"><use href="#br" x="208"/></g><g id="n53-5"><use href="#br" x="260"/></g><g id="n53-6"><use href="#br" x="312"/></g><g id="n53-7"><use href="#wr" x="364"/></g><g id="n53-8"><use href="#wr" x="416"/></g><g id="n53-9"><use href="#br" x="468"/></g><g id="n53-10"><use href="#br" x="520"/></g><g id="n53-11"><use href="#yr" x="572"/></g></g>
<g transform="translate(0 2808)"><g id="n54-1"><use href="#yl" x="52"/></g><g id="n54-2"><use href="#yl" x="104"/></g><g id="n54-3"><use href="#yl" x="156"/></g><g id="n54-4"><use href="#yl" x="208"/></g><g id="n54-5"><use href="#bl" x="260"/></g><g id="n54-6"><use href="#bl" x="312"/></g><g id="n54-7"><use href="#wl" x="364"/></g><g id="n54-8"><use href="#gl" x="416"/></g><g id="n54-9"><use href="#bl" x="468"/></g><g id="n54-10"><use href="#bl" x="520"/></g><g id="n54-11"><use href="#yl" x="572"/></g></g>
<g transform="translate(0 2860)"><g id="n55-1"><use href="#yr" x="52"/></g><g id="n55-2"><use href="#yr" x="104"/></g><g id="n55-3"><use href="#yr" x="156"/></g><g id="n55-4"><use href="#yr" x="208"/></g><g id="n55-5"><use href="#yr" x="260"/></g><g id="n55-6"><use href="#br" x="312"/></g><g id="n55-7"><use href="#br" x="364"/></g><g id="n55-8"><use href="#br" x="416"/></g><g id="n55-9"><use href="#br" x="468"/></g><g id="n55-10"><use href="#br" x="520"/></g><g id="n55-11"><use href="#yr" x="572"/></g></g>
<g transform="translate(0 2912)"><g id="n56-1"><use href="#yl" x="52"/></g><g id="n56-2"><use href="#yl" x="104"/></g><g id="n56-3"><use href="#yl" x="156"/></g><g id="n56-4"><use href="#yl" x="208"/></g><g id="n56-5"><use href="#yl" x="260"/></g><g id="n56-6"><use href="#yl" x="312"/></g><g id="n56-7"><use href="#bl" x="364"/></g><g id="n56-8"><use href="#bl" x="416"/></g><g id="n56-9"><use href="#bl" x="468"/></g><g id="n56-10"><use href="#yl" x="520"/></g><g id="n56-11"><use href="#yl" x="572"/></g></g>
<g transform="translate(0 2964)"><g id="n57-1"><use href="#yr" x="52"/></g><g id="n57-2"><use href="#yr" x="104"/></g><g id="n57-3"><use href="#yr" x="156"/></g><g id="n57-4"><use href="#yr" x="208"/></g><g id="n57-5"><use href="#yr" x="260"/></g><g id="n57-6"><use href="#yr" x="312"/></g><g id="n57-7"><use href="#yr" x="364"/></g><g id="n57-8"><use href="#yr" x="416"/></g><g id="n57-9"><use href="#yr" x="468"/></g><g id="n57-10"><use href="#yr" x="520"/></g><g id="n57-11"><use href="#yr" x="572"/></g></g>
</g>
<text class="wm" x="313.5" y="1540" text-anchor="middle">BRACELETBOOK.COM</text>
</g>
</svg>
